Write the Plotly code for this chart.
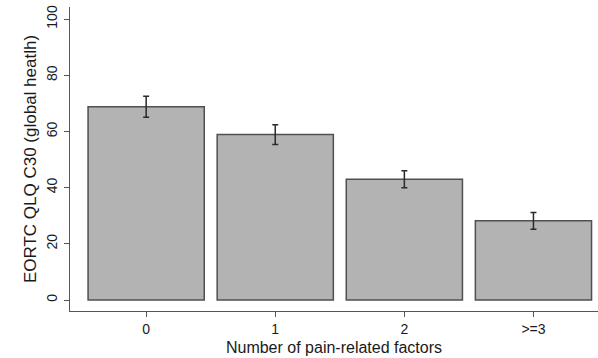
import plotly.graph_objects as go

categories = ["0", "1", "2", ">=3"]
means = [68.8, 58.9, 43.0, 28.2]
errors = [3.7, 3.5, 3.0, 3.0]
y_ticks = [0, 20, 40, 60, 80, 100]

fig = go.Figure()
fig.add_trace(go.Bar(
    x=list(range(len(categories))),
    y=means,
    marker=dict(color="#b3b3b3", line=dict(color="#505050", width=1.5)),
    error_y=dict(type="data", array=errors, visible=True, color="#2a2a2a",
                 thickness=1.5, width=3),
    width=0.9,
))

font = "Liberation Sans, Arial, sans-serif"
fig.update_layout(
    width=598, height=358,
    margin=dict(l=70, r=0, t=7, b=47),
    plot_bgcolor="white", paper_bgcolor="white",
    showlegend=False,
    font=dict(family=font, size=14, color="#1a1a1a"),
    xaxis=dict(
        range=[-0.59, 3.5],
        tickvals=list(range(len(categories))),
        ticktext=categories,
        showline=True, linecolor="#555", linewidth=1.2,
        ticks="outside", ticklen=5, tickcolor="#555",
        showgrid=False, zeroline=False,
        title=dict(text="Number of pain-related factors", font=dict(size=16), standoff=5),
    ),
    yaxis=dict(
        range=[-3.9, 104.3],
        tickvals=y_ticks,
        tickangle=-90,
        ticklabelstandoff=1,
        showline=True, linecolor="#555", linewidth=1.2,
        ticks="outside", ticklen=5, tickcolor="#555",
        showgrid=False, zeroline=False,
        title=dict(text="EORTC QLQ C30 (global heatlh)", font=dict(size=17), standoff=3),
    ),
)

fig.write_html("out.html")
